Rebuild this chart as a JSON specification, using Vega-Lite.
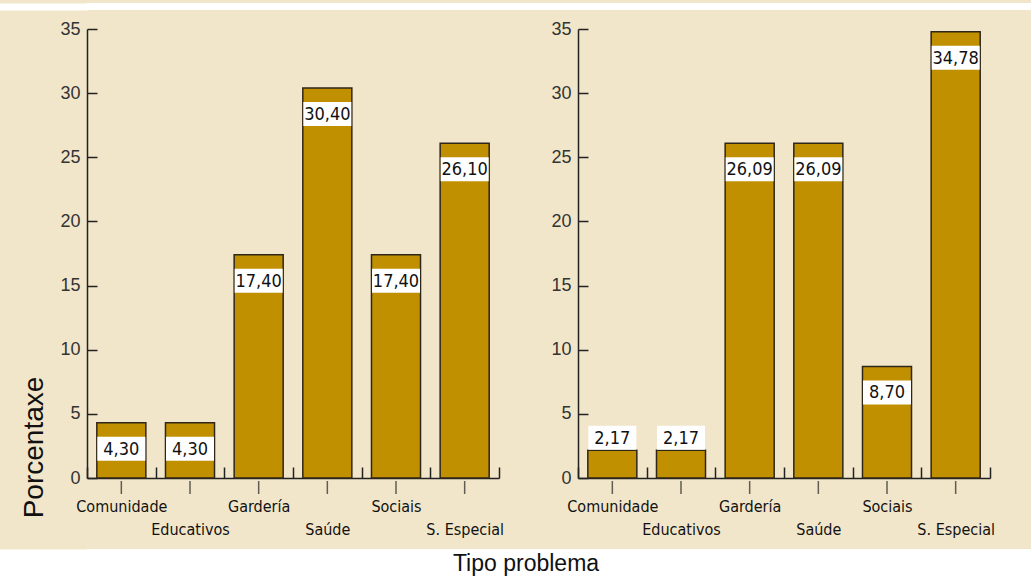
{
  "$schema": "https://vega.github.io/schema/vega-lite/v6.json",
  "background": "#f2e6ca",
  "padding": {"left": 6, "top": 0, "right": 0, "bottom": 0},
  "config": {
    "locale": {"number": {"decimal": ",", "thousands": ".", "grouping": [3], "currency": ["", " €"]}},
    "view": {"stroke": null},
    "axis": {"grid": false, "domainColor": "#222", "domainWidth": 1.5, "tickColor": "#222", "tickWidth": 1.5, "labelColor": "#222"}
  },
  "datasets": {
    "p1": [
      {"cat": "Comunidade", "v": 4.30},
      {"cat": "Educativos", "v": 4.30},
      {"cat": "Gardería", "v": 17.40},
      {"cat": "Saúde", "v": 30.40},
      {"cat": "Sociais", "v": 17.40},
      {"cat": "S. Especial", "v": 26.10}
    ],
    "p2": [
      {"cat": "Comunidade", "v": 2.17},
      {"cat": "Educativos", "v": 2.17},
      {"cat": "Gardería", "v": 26.09},
      {"cat": "Saúde", "v": 26.09},
      {"cat": "Sociais", "v": 8.70},
      {"cat": "S. Especial", "v": 34.78}
    ]
  },
  "columns": 1,
  "spacing": 12,
  "concat": [
    {
      "columns": 1,
      "spacing": 8,
      "concat": [
        {
          "width": 944, "height": 7,
          "data": {"values": [{"t": "", "k": "a"}]},
          "mark": {"type": "text"},
          "encoding": {
            "text": {"field": "t"},
            "y": {"field": "k", "type": "nominal", "axis": {"title": null, "labels": false, "ticks": false, "domainColor": "white", "domainWidth": 88, "domainCap": "butt", "offset": 44}}
          },
          "view": {"fill": "white", "stroke": null}
        },
        {
          "spacing": 79,
          "bounds": "flush",
          "hconcat": [
            {
              "width": 412, "height": 449,
              "data": {"name": "p1"},
              "encoding": {
                "x": {"field": "cat", "type": "nominal", "sort": null,
                  "scale": {"paddingInner": 0, "paddingOuter": 0},
                  "axis": {"title": null, "tickBand": "extent", "tickSize": -11, "labelAngle": 0,
                    "labelFont": "DejaVu Sans Condensed, sans-serif", "labelFontSize": 16, "labelColor": "#111",
                    "labelPadding": {"condition": {"test": "indexof(['Educativos','Saúde','S. Especial'], datum.value) >= 0", "value": 54}, "value": 31}}},
                "y": {"field": "v", "type": "quantitative",
                  "scale": {"domain": [0, 35], "nice": false},
                  "axis": {"title": ["", "Porcentaxe"], "values": [0, 5, 10, 15, 20, 25, 30, 35], "tickSize": -10, "labelPadding": 17,
                    "labelFont": "Liberation Sans", "labelFontSize": 18, "labelColor": "#333",
                    "titleFont": "Liberation Sans", "titleFontSize": 28, "titleFontWeight": "normal", "titleColor": "#111",
                    "titleLineHeight": 14, "titleY": 418, "titlePadding": 11}}
              },
              "layer": [
                {"mark": {"type": "bar", "fill": "#c09000", "stroke": "#2e2618", "strokeWidth": 1.5, "width": {"band": 0.714}}},
                {"mark": {"type": "tick", "orient": "vertical", "thickness": 1.5, "color": "#222", "yOffset": 9.5},
                  "encoding": {"y": {"datum": 0}, "size": {"value": 13}}},
                {"transform": [{"filter": "datum.v >= 3"}],
                  "mark": {"type": "point", "shape": "M-1,-0.5H1V0.5H-1Z", "filled": true, "fill": "white", "opacity": 1, "strokeWidth": 0, "yOffset": 26},
                  "encoding": {"size": {"value": 2304}}},
                {"transform": [{"filter": "datum.v >= 3"}],
                  "mark": {"type": "text", "font": "DejaVu Sans Condensed, sans-serif", "fontSize": 18, "fill": "#111", "baseline": "middle", "align": "center", "yOffset": 27},
                  "encoding": {"text": {"field": "v", "type": "quantitative", "format": ".2f"}}},
                {"transform": [{"filter": "datum.v < 3"}],
                  "mark": {"type": "point", "shape": "M-1,-0.5H1V0.5H-1Z", "filled": true, "fill": "white", "opacity": 1, "strokeWidth": 0, "yOffset": -12.5},
                  "encoding": {"size": {"value": 2304}}},
                {"transform": [{"filter": "datum.v < 3"}],
                  "mark": {"type": "text", "font": "DejaVu Sans Condensed, sans-serif", "fontSize": 18, "fill": "#111", "baseline": "middle", "align": "center", "yOffset": -11.5},
                  "encoding": {"text": {"field": "v", "type": "quantitative", "format": ".2f"}}}
              ]
            },
            {
              "width": 412, "height": 449,
              "data": {"name": "p2"},
              "encoding": {
                "x": {"field": "cat", "type": "nominal", "sort": null,
                  "scale": {"paddingInner": 0, "paddingOuter": 0},
                  "axis": {"title": null, "tickBand": "extent", "tickSize": -11, "labelAngle": 0,
                    "labelFont": "DejaVu Sans Condensed, sans-serif", "labelFontSize": 16, "labelColor": "#111",
                    "labelPadding": {"condition": {"test": "indexof(['Educativos','Saúde','S. Especial'], datum.value) >= 0", "value": 54}, "value": 31}}},
                "y": {"field": "v", "type": "quantitative",
                  "scale": {"domain": [0, 35], "nice": false},
                  "axis": {"title": null, "values": [0, 5, 10, 15, 20, 25, 30, 35], "tickSize": -10, "labelPadding": 17,
                    "labelFont": "Liberation Sans", "labelFontSize": 18, "labelColor": "#333"}}
              },
              "layer": [
                {"mark": {"type": "bar", "fill": "#c09000", "stroke": "#2e2618", "strokeWidth": 1.5, "width": {"band": 0.714}}},
                {"mark": {"type": "tick", "orient": "vertical", "thickness": 1.5, "color": "#222", "yOffset": 9.5},
                  "encoding": {"y": {"datum": 0}, "size": {"value": 13}}},
                {"transform": [{"filter": "datum.v >= 3"}],
                  "mark": {"type": "point", "shape": "M-1,-0.5H1V0.5H-1Z", "filled": true, "fill": "white", "opacity": 1, "strokeWidth": 0, "yOffset": 26},
                  "encoding": {"size": {"value": 2304}}},
                {"transform": [{"filter": "datum.v >= 3"}],
                  "mark": {"type": "text", "font": "DejaVu Sans Condensed, sans-serif", "fontSize": 18, "fill": "#111", "baseline": "middle", "align": "center", "yOffset": 27},
                  "encoding": {"text": {"field": "v", "type": "quantitative", "format": ".2f"}}},
                {"transform": [{"filter": "datum.v < 3"}],
                  "mark": {"type": "point", "shape": "M-1,-0.5H1V0.5H-1Z", "filled": true, "fill": "white", "opacity": 1, "strokeWidth": 0, "yOffset": -12.5},
                  "encoding": {"size": {"value": 2304}}},
                {"transform": [{"filter": "datum.v < 3"}],
                  "mark": {"type": "text", "font": "DejaVu Sans Condensed, sans-serif", "fontSize": 18, "fill": "#111", "baseline": "middle", "align": "center", "yOffset": -11.5},
                  "encoding": {"text": {"field": "v", "type": "quantitative", "format": ".2f"}}}
              ]
            }
          ]
        }
      ]
    },
    {
      "width": 944, "height": 30,
      "data": {"values": [{"t": "Tipo problema", "k": "a"}]},
      "mark": {"type": "text", "font": "Liberation Sans", "fontSize": 23, "fill": "#111", "baseline": "middle", "align": "center", "dx": -33},
      "encoding": {
        "text": {"field": "t"},
        "y": {"field": "k", "type": "nominal", "axis": {"title": null, "labels": false, "ticks": false, "domainColor": "white", "domainWidth": 88, "domainCap": "butt", "offset": 44}}
      },
      "view": {"fill": "white", "stroke": null}
    }
  ]
}
